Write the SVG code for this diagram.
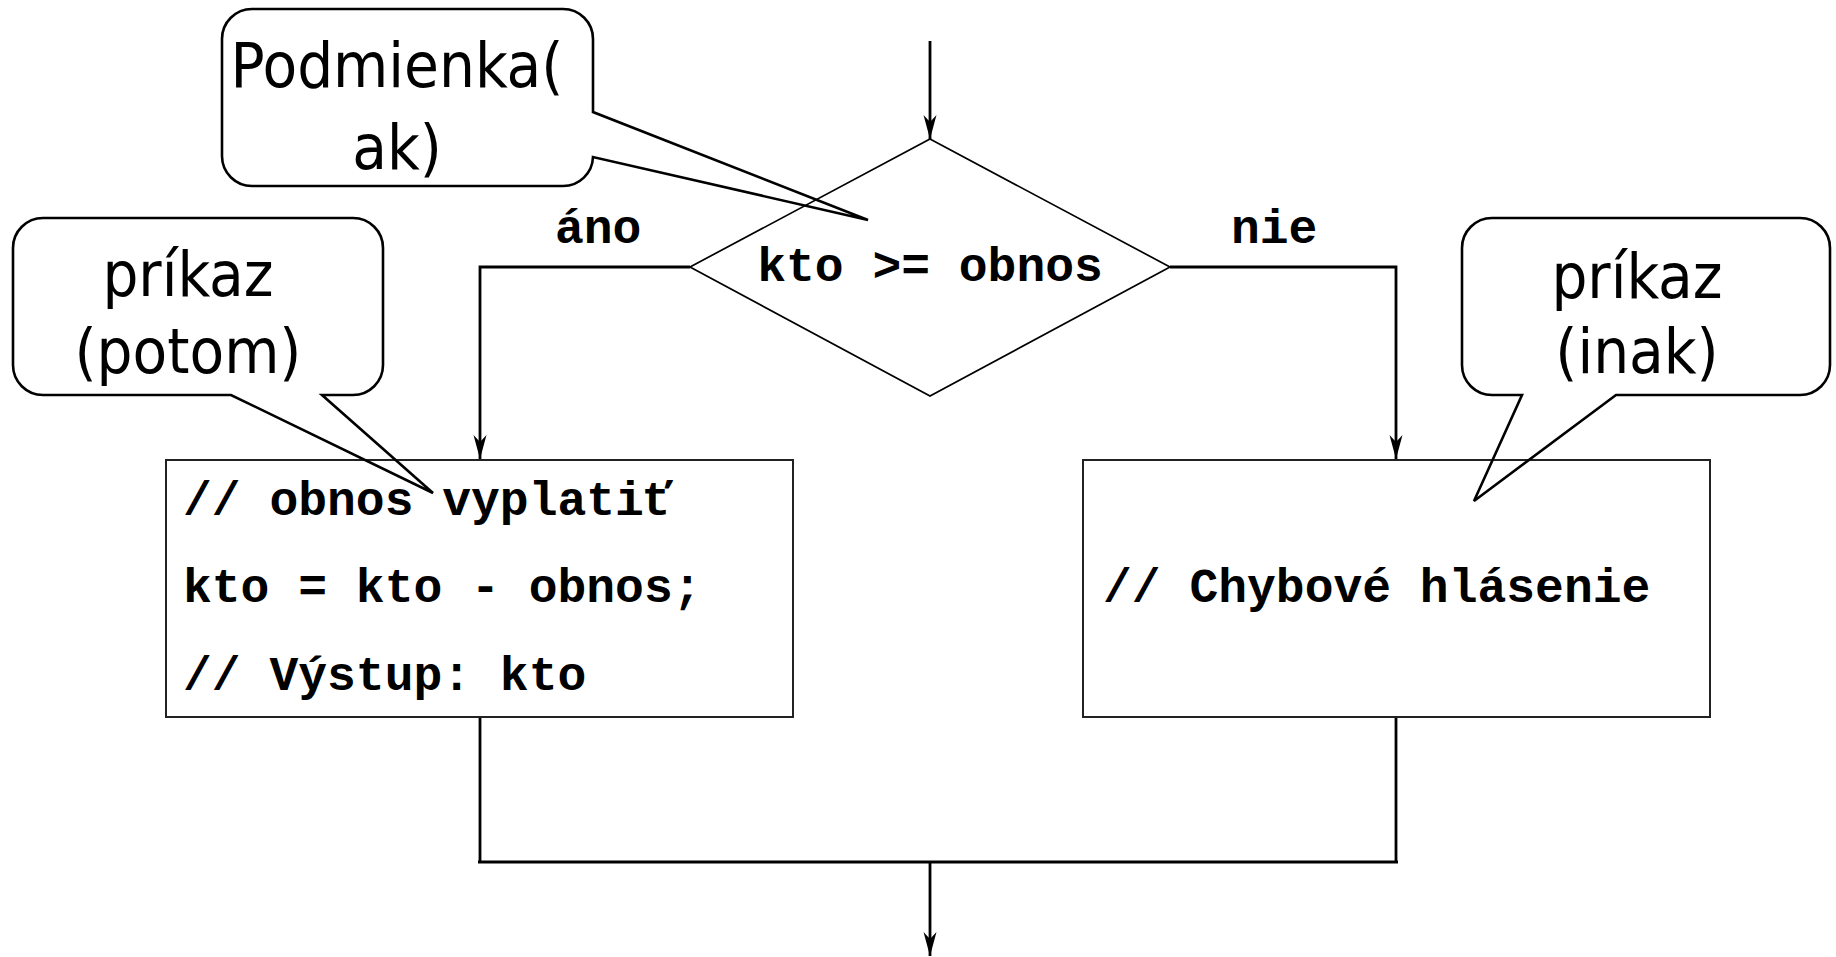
<svg xmlns="http://www.w3.org/2000/svg" width="1836" height="957" viewBox="0 0 1836 957">
<style>
.callout{fill:none;stroke:#000;stroke-width:2.6;stroke-linejoin:miter}
.ctext{font-family:"DejaVu Sans Condensed","DejaVu Sans",sans-serif;font-stretch:condensed;font-size:63px;fill:#000;text-anchor:middle}
.code{font-family:"Liberation Mono","Courier New",monospace;font-weight:bold;font-size:48px;fill:#000}
.box{fill:none;stroke:#222;stroke-width:2}
.dia{fill:none;stroke:#000;stroke-width:1.7}
.conn{fill:none;stroke:#000;stroke-width:2.8}
</style>
<defs>
<marker id="arr" markerUnits="userSpaceOnUse" markerWidth="28" markerHeight="16" viewBox="-26 -8 28 16" refX="0" refY="0" orient="auto">
<path d="M0,0 L-24,-6.5 L-17,0 L-24,6.5 Z" fill="#000"/>
</marker>
</defs>
<rect width="1836" height="957" fill="#fff"/>

<g id="connectors">
<path class="conn" d="M930,41 V139" marker-end="url(#arr)"/>
<path class="conn" d="M690,267 H480 V459" marker-end="url(#arr)"/>
<path class="conn" d="M1170,267 H1396 V459" marker-end="url(#arr)"/>
<path class="conn" d="M480,717 V862"/>
<path class="conn" d="M1396,717 V862"/>
<path class="conn" d="M478,862 H1398" stroke-width="3.8"/>
<path class="conn" d="M930,862 V956" marker-end="url(#arr)"/>
<text class="code" x="555" y="243">áno</text>
<text class="code" x="1231" y="243">nie</text>
</g>

<g id="decision">
<polygon class="dia" points="930,139 1170,267 930,396 690,267"/>
<text class="code" x="930" y="281" text-anchor="middle">kto &gt;= obnos</text>
</g>

<g id="then-box">
<rect class="box" x="166" y="460" width="627" height="257"/>
<text class="code" x="183" y="515">// obnos vyplatiť</text>
<text class="code" x="183" y="602">kto = kto - obnos;</text>
<text class="code" x="183" y="690">// Výstup: kto</text>
</g>

<g id="else-box">
<rect class="box" x="1083" y="460" width="627" height="257"/>
<text class="code" x="1103" y="602">// Chybové hlásenie</text>
</g>

<g id="callout-condition">
<path class="callout" d="M252,9 H563 A30,30 0 0 1 593,39 V112 L868,220 L593,157 A30,30 0 0 1 563,186 H252 A30,30 0 0 1 222,156 V39 A30,30 0 0 1 252,9 Z"/>
<text class="ctext" x="397" y="87">Podmienka(</text>
<text class="ctext" x="397" y="169">ak)</text>
</g>

<g id="callout-then">
<path class="callout" d="M43,218 H353 A30,30 0 0 1 383,248 V365 A30,30 0 0 1 353,395 H322 L433,493 L231,395 H43 A30,30 0 0 1 13,365 V248 A30,30 0 0 1 43,218 Z"/>
<text class="ctext" x="188" y="296">príkaz</text>
<text class="ctext" x="188" y="373">(potom)</text>
</g>

<g id="callout-else">
<path class="callout" d="M1492,218 H1800 A30,30 0 0 1 1830,248 V365 A30,30 0 0 1 1800,395 H1616 L1474,501 L1522,395 H1492 A30,30 0 0 1 1462,365 V248 A30,30 0 0 1 1492,218 Z"/>
<text class="ctext" x="1637" y="298">príkaz</text>
<text class="ctext" x="1637" y="373">(inak)</text>
</g>
</svg>
